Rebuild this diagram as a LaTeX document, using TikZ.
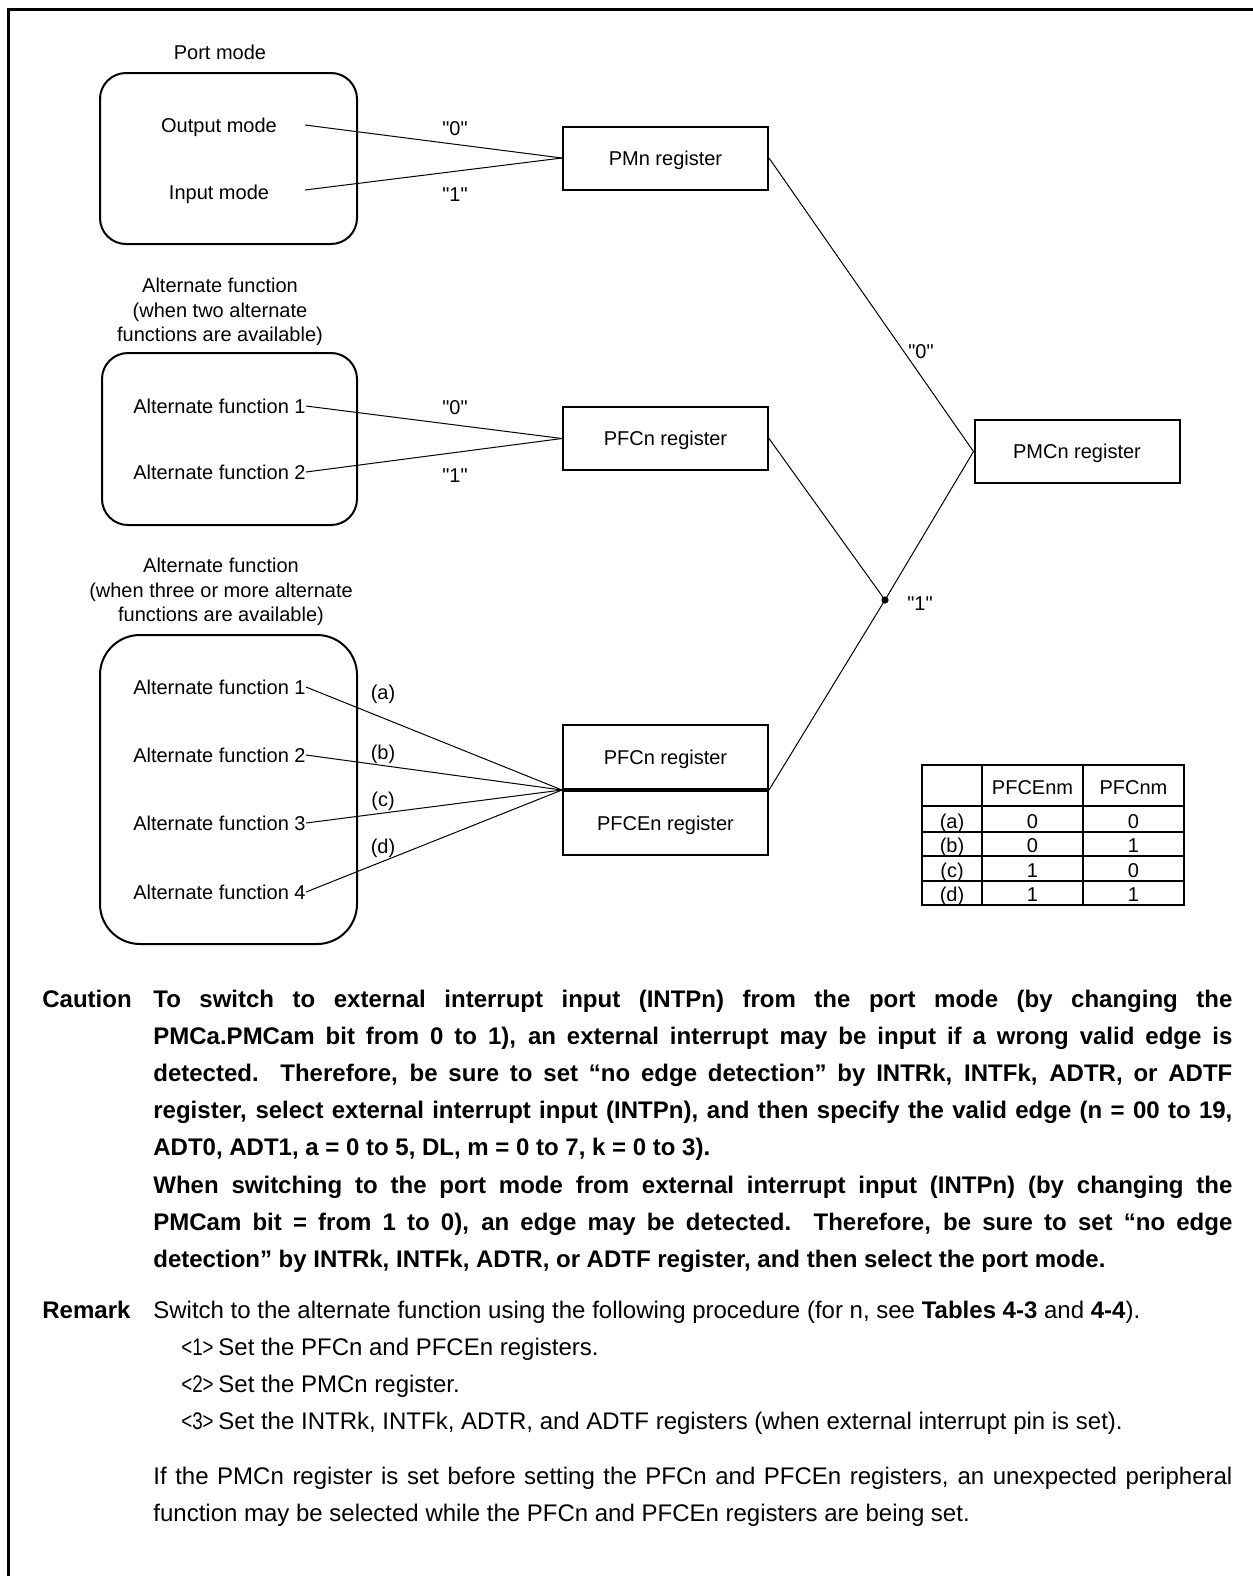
\documentclass[tikz,border=0pt]{standalone}
\usepackage{graphicx}
\usepackage{fontspec}
\setmainfont{Liberation Sans}
\begin{document}
\begin{tikzpicture}[x=0.5pt,y=-0.5pt,
  every node/.style={font=\fontsize{10}{12.25}\selectfont, inner sep=0pt},
  one/.style={text height=7.2pt, text depth=0pt},
  regbox/.style={draw, line width=1pt, minimum width=102.5pt, minimum height=31.5pt, one},
  modebox/.style={draw, line width=1pt, rounded corners=13pt},
  wire/.style={line width=0.5pt},
  title/.style={align=center},
  body/.style={anchor=base west, inner sep=0pt, font=\fontsize{12}{18.6}\selectfont},
]
\path[use as bounding box] (0,0) rectangle (1253,1576);
\draw[line width=1.5pt] (8.5,1576) -- (8.5,9.5) -- (1253,9.5);

% ---------- Port mode ----------
\node[title] (t1) at (220,52) {Port mode};
\node[modebox, minimum width=128.5pt, minimum height=85.5pt] (box1) at (228.5,158.5) {};
\node[one] (out) at (219,125) {Output mode};
\node[one] (inp) at (219,192) {Input mode};
\coordinate (outE) at (305,125);
\coordinate (inE) at (305,190);
\node[regbox] (pmn) at (665.5,158) {PMn register};
\draw[wire] (outE) -- (pmn.west);
\draw[wire] (inE) -- (pmn.west);
\node[one] (l0a) at (455,128) {\textquotedbl 0\textquotedbl};
\node[one] (l1a) at (455,194) {\textquotedbl 1\textquotedbl};

% ---------- two alternate functions ----------
\node[title] (t2) at (220,312) {Alternate function\\(when two alternate\\functions are available)};
\node[modebox, minimum width=127.5pt, minimum height=86pt] (box2) at (229.5,439) {};
\node[anchor=east, one] (a21) at (306,406) {Alternate function 1};
\node[anchor=east, one] (a22) at (306,472) {Alternate function 2};
\node[regbox] (pfc1) at (665.5,438.5) {PFCn register};
\draw[wire] (a21.east) -- (pfc1.west);
\draw[wire] (a22.east) -- (pfc1.west);
\node[one] (l0b) at (455,407) {\textquotedbl 0\textquotedbl};
\node[one] (l1b) at (455,475) {\textquotedbl 1\textquotedbl};

% ---------- three or more alternate functions ----------
\node[title] (t3) at (221,592) {Alternate function\\(when three or more alternate\\functions are available)};
\node[modebox, rounded corners=20pt, minimum width=128.5pt, minimum height=154.5pt] (box3) at (228.5,789.5) {};
\node[anchor=east, one] (a31) at (306,687) {Alternate function 1};
\node[anchor=east, one] (a32) at (306,755) {Alternate function 2};
\node[anchor=east, one] (a33) at (306,823) {Alternate function 3};
\node[anchor=east, one] (a34) at (306,892) {Alternate function 4};
\node[regbox, minimum height=32pt] (pfc2) at (665.5,757) {PFCn register};
\node[regbox, minimum height=32pt, anchor=north] (pfce) at (pfc2.south) {PFCEn register};
\draw[wire] (a31.east) -- (pfc2.south west);
\draw[wire] (a32.east) -- (pfc2.south west);
\draw[wire] (a33.east) -- (pfc2.south west);
\draw[wire] (a34.east) -- (pfc2.south west);
\node[one] (la) at (383,692) {(a)};
\node[one] (lb) at (383,752) {(b)};
\node[one] (lc) at (383,799) {(c)};
\node[one] (ld) at (383,846) {(d)};

% ---------- PMCn ----------
\node[regbox] (pmc) at (1077,451.5) {PMCn register};
\coordinate (jn) at (885,600);
\draw[wire] (pmn.east) -- (pmc.west);
\draw[wire] (pfc1.east) -- (jn);
\draw[wire] (jn) -- (pmc.west);
\draw[wire] (pfc2.south east) -- (jn);
\fill (jn) circle[radius=1.8pt];
\node[one] (l0c) at (921,351) {\textquotedbl 0\textquotedbl};
\node[one] (l1c) at (920,603) {\textquotedbl 1\textquotedbl};

% ---------- table ----------
\draw[line width=0.7pt] (922,806) -- (1184,806) (922,832) -- (1184,832)
  (922,856) -- (1184,856) (922,881) -- (1184,881)
  (982,765) -- (982,905) (1083,765) -- (1083,905);
\draw[line width=1pt] (922,765) rectangle (1184,905);
\tikzset{cell/.style={one}}
\node[cell] (h1) at (1032.5,787) {PFCEnm};
\node[cell] (h2) at (1133.5,787) {PFCnm};
\node[cell] (ra) at (952,821) {(a)};  \node[cell] (ra1) at (1032.5,821) {0}; \node[cell] (ra2) at (1133.5,821) {0};
\node[cell] (rb) at (952,845) {(b)};  \node[cell] (rb1) at (1032.5,845) {0}; \node[cell] (rb2) at (1133.5,845) {1};
\node[cell] (rc) at (952,870) {(c)}; \node[cell] (rc1) at (1032.5,870) {1}; \node[cell] (rc2) at (1133.5,870) {0};
\node[cell] (rd) at (952,894) {(d)};  \node[cell] (rd1) at (1032.5,894) {1}; \node[cell] (rd2) at (1133.5,894) {1};

% ---------- text ----------
\node[body] (caution) at (42,1007) {\bfseries Caution};
\node[body] (cautiontext) at (153,1007) {\parbox[t]{539.5pt}{\bfseries\emergencystretch=3em
To switch to external interrupt input (INTPn) from the port mode (by changing the\linebreak
PMCa.PMCam bit from 0 to 1), an external interrupt may be input if a wrong valid edge is\linebreak
detected.\ \ Therefore, be sure to set “no edge detection” by INTRk, INTFk, ADTR, or ADTF\linebreak
register, select external interrupt input (INTPn), and then specify the valid edge (n = 00 to 19,\linebreak
ADT0, ADT1, a = 0 to 5, DL, m = 0 to 7, k = 0 to 3).\par
When switching to the port mode from external interrupt input (INTPn) (by changing the\linebreak
PMCam bit = from 1 to 0), an edge may be detected.\ \ Therefore, be sure to set “no edge\linebreak
detection” by INTRk, INTFk, ADTR, or ADTF register, and then select the port mode.}};

\node[body] (remark) at (42,1318) {\bfseries Remark};
\node[body] (remarktext) at (153,1318) {Switch to the alternate function using the following procedure (for n, see \textbf{Tables 4-3} and \textbf{4-4}).};
\node[body] (n1) at (181,1355) {\scalebox{0.78}[1]{<1>}};
\node[body] (s1) at (218,1355) {Set the PFCn and PFCEn registers.};
\node[body] (n2) at (181,1392) {\scalebox{0.78}[1]{<2>}};
\node[body] (s2) at (218,1392) {Set the PMCn register.};
\node[body] (n3) at (181,1429) {\scalebox{0.78}[1]{<3>}};
\node[body] (s3) at (218,1429) {Set the INTRk, INTFk, ADTR, and ADTF registers (when external interrupt pin is set).};
\node[body] (note) at (153,1484) {\parbox[t]{539.5pt}{\emergencystretch=3em
If the PMCn register is set before setting the PFCn and PFCEn registers, an unexpected peripheral\linebreak
function may be selected while the PFCn and PFCEn registers are being set.}};
\end{tikzpicture}
\end{document}
